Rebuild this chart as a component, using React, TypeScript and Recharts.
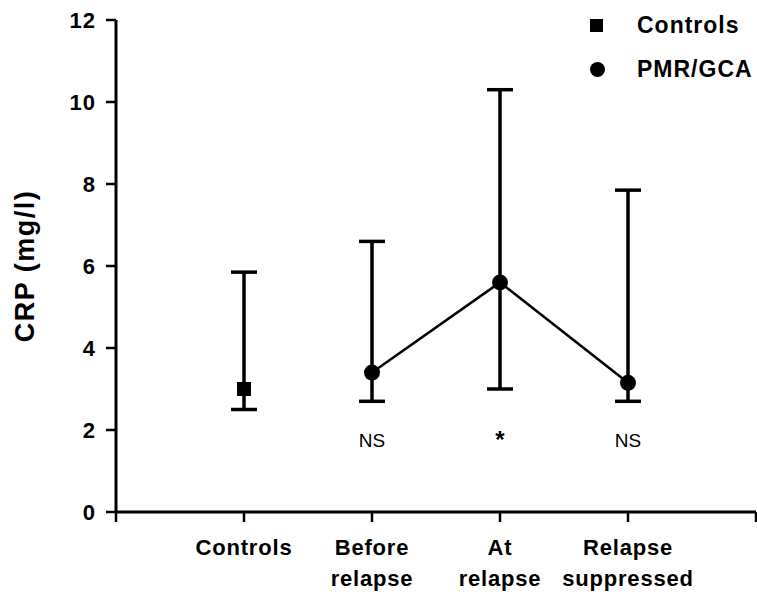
import {
  ComposedChart,
  ErrorBar,
  ReferenceDot,
  Scatter,
  XAxis,
  YAxis,
} from "recharts";

const FONT = "'Liberation Sans', Arial, Helvetica, sans-serif";

// groupes sur l'axe X (positions 1..4), libellés sur deux lignes
const xPositions = [1, 2, 3, 4];
const xLabels = [["Controls"], ["Before", "relapse"], ["At", "relapse"], ["Relapse", "suppressed"]];

// CRP (mg/l) : moyenne, borne basse, borne haute
const means = [3.0, 3.4, 5.6, 3.15];
const lows = [2.5, 2.7, 3.0, 2.7];
const highs = [5.85, 6.6, 10.3, 7.85];

// significativité sous chaque groupe
const significance = ["", "NS", "*", "NS"];

const yTicks = [0, 2, 4, 6, 8, 10, 12];
const xTicks = [0, 1, 2, 3, 4, 5];

const points = xPositions.map((x, i) => ({
  x,
  y: means[i],
  err: [means[i] - lows[i], highs[i] - means[i]],
}));
const controlsData = points.slice(0, 1);
const pmrData = points.slice(1);

function XTick({ x, y, payload }: { x?: number; y?: number; payload?: { value: number } }) {
  const idx = xPositions.indexOf(payload?.value ?? -1);
  if (idx < 0) return null;
  return (
    <text
      x={x}
      y={y}
      textAnchor="middle"
      fontSize={22}
      fontWeight="bold"
      fontFamily={FONT}
      letterSpacing={0.8}
      fill="#000"
    >
      {xLabels[idx].map((line, i) => (
        <tspan key={i} x={x} dy={31}>
          {line}
        </tspan>
      ))}
    </text>
  );
}

const Square = ({ cx, cy }: { cx?: number; cy?: number }) => (
  <rect x={(cx ?? 0) - 7} y={(cy ?? 0) - 7} width={14} height={14} fill="#000" />
);
const Dot = ({ cx, cy }: { cx?: number; cy?: number }) => (
  <circle cx={cx} cy={cy} r={8} fill="#000" />
);

export default function App() {
  return (
    <div style={{ position: "absolute", left: 0, top: 0, width: 757, height: 595, background: "#fff" }}>
      <ComposedChart width={757} height={595} margin={{ top: 20, right: 1, bottom: 0, left: 0 }}>
        <XAxis
          type="number"
          dataKey="x"
          domain={[0, 5]}
          ticks={xTicks}
          interval={0}
          height={83}
          stroke="#000"
          axisLine={{ stroke: "#000", strokeWidth: 3 }}
          tickLine={{ stroke: "#000", strokeWidth: 2.5 }}
          tickSize={10}
          tick={<XTick />}
        />
        <YAxis
          type="number"
          domain={[0, 12]}
          ticks={yTicks}
          width={116}
          stroke="#000"
          axisLine={{ stroke: "#000", strokeWidth: 3 }}
          tickLine={{ stroke: "#000", strokeWidth: 2.5 }}
          tickSize={10}
          tickMargin={10}
          tick={{ fill: "#000", fontSize: 22, fontWeight: "bold", fontFamily: FONT, letterSpacing: 1 }}
          label={{
            value: "CRP  (mg/l)",
            angle: -90,
            position: "insideLeft",
            offset: 24,
            style: {
              fill: "#000",
              fontSize: 27,
              fontWeight: "bold",
              fontFamily: FONT,
              textAnchor: "middle",
              letterSpacing: 1.5,
              whiteSpace: "pre",
            },
          }}
        />

        <Scatter data={controlsData} dataKey="y" shape={<Square />} isAnimationActive={false}>
          <ErrorBar dataKey="err" direction="y" width={13} stroke="#000" strokeWidth={3.5} />
        </Scatter>
        <Scatter
          data={pmrData}
          dataKey="y"
          shape={<Dot />}
          line={{ stroke: "#000", strokeWidth: 2.5 }}
          lineType="joint"
          isAnimationActive={false}
        >
          <ErrorBar dataKey="err" direction="y" width={13} stroke="#000" strokeWidth={3.5} />
        </Scatter>

        {xPositions.map((x, i) =>
          significance[i] ? (
            <ReferenceDot
              key={x}
              x={x}
              y={1.76}
              r={0}
              stroke="none"
              label={{
                value: significance[i],
                position: "center",
                fill: "#000",
                fontSize: significance[i] === "*" ? 24 : 19,
                fontWeight: significance[i] === "*" ? "bold" : "normal",
                fontFamily: FONT,
              }}
            />
          ) : null
        )}
      </ComposedChart>

      {/* légende */}
      <div
        style={{
          position: "absolute",
          left: 590,
          top: 11,
          fontFamily: FONT,
          fontWeight: "bold",
          fontSize: 23,
          letterSpacing: 1,
          color: "#000",
          lineHeight: "28px",
        }}
      >
        <div style={{ display: "flex", alignItems: "center", height: 28 }}>
          <span style={{ width: 13, height: 13, background: "#000", display: "inline-block" }} />
          <span style={{ marginLeft: 34 }}>Controls</span>
        </div>
        <div style={{ display: "flex", alignItems: "center", height: 28, marginTop: 16 }}>
          <span style={{ width: 15, height: 15, borderRadius: "50%", background: "#000", display: "inline-block" }} />
          <span style={{ marginLeft: 32 }}>PMR/GCA</span>
        </div>
      </div>
    </div>
  );
}
